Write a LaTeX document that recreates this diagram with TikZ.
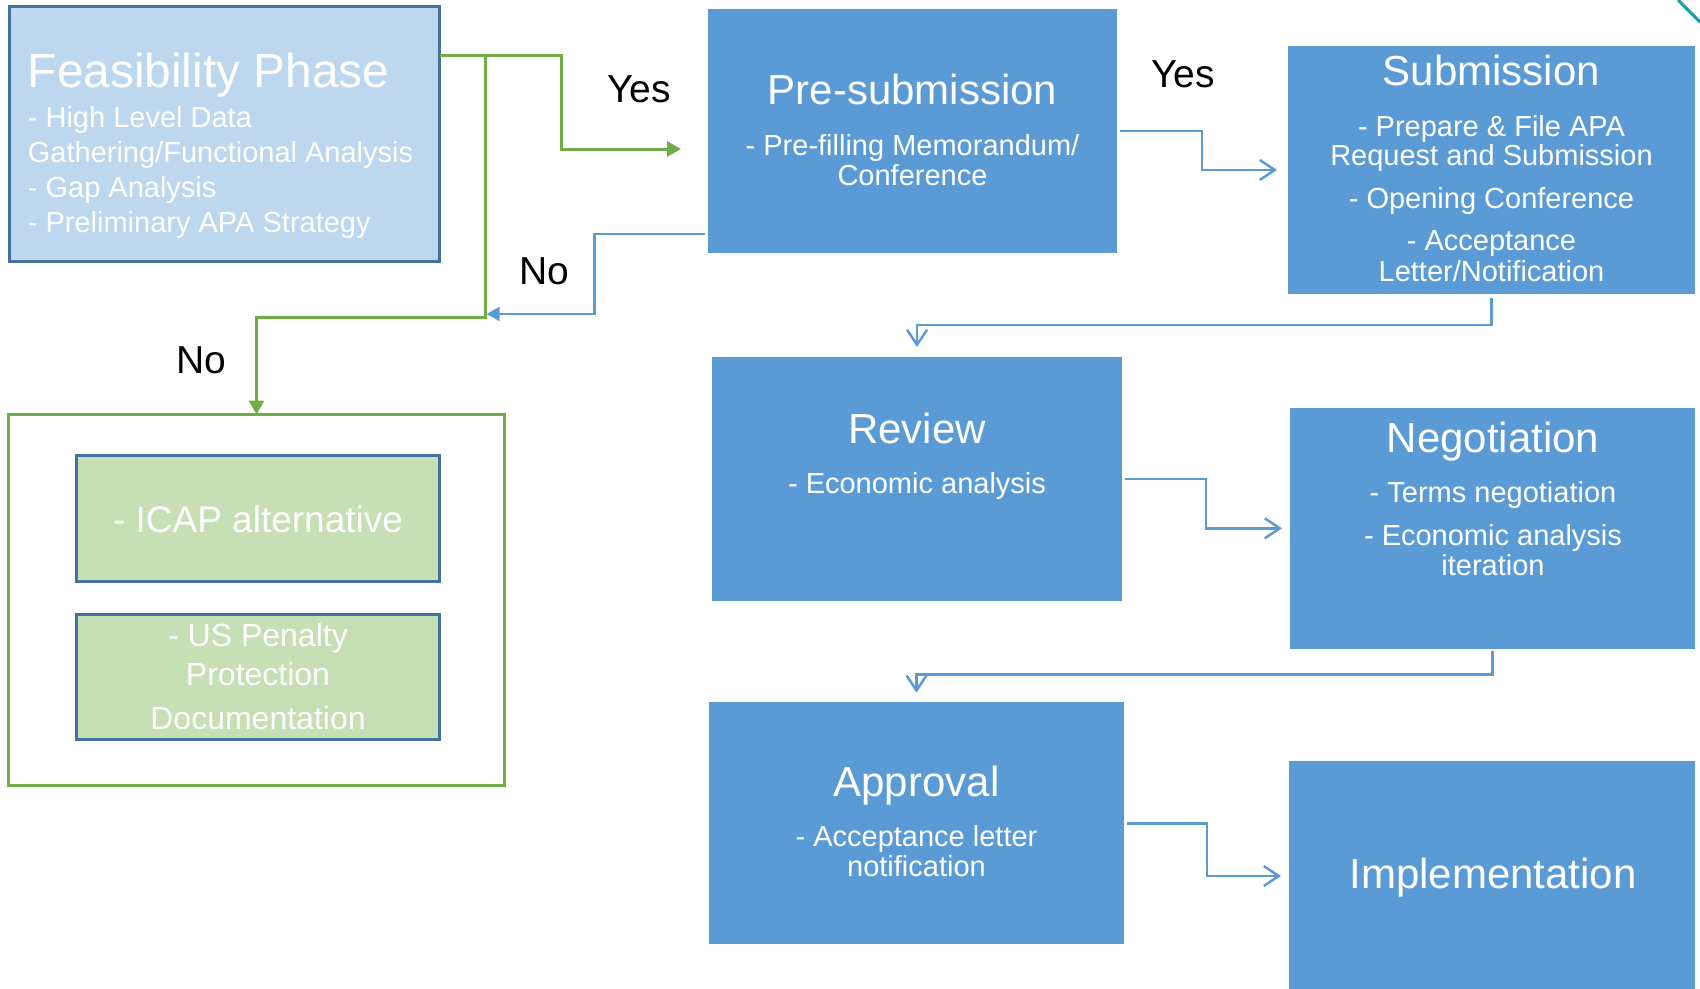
\documentclass[tikz,border=0pt]{standalone}
\usepackage{fontspec}
\setmainfont{Liberation Sans}
\usetikzlibrary{arrows.meta,calc}
\definecolor{boxblue}{HTML}{5B9BD5}
\definecolor{lightblue}{HTML}{BDD7EE}
\definecolor{borderblue}{HTML}{41719C}
\definecolor{ggreen}{HTML}{70AD47}
\definecolor{lgreen}{HTML}{C5E0B4}
\definecolor{tealline}{HTML}{1A9CA4}
\begin{document}
\begin{tikzpicture}[x=1pt,y=-1pt,
  stagebox/.style={fill=boxblue, draw=none, anchor=north west, inner sep=0pt, outer sep=0pt},
  feasbox/.style={fill=lightblue, draw=borderblue, line width=3pt, anchor=north west, inner sep=0pt, outer sep=0pt},
  altbox/.style={fill=lgreen, draw=borderblue, line width=3pt, anchor=north west, inner sep=0pt, outer sep=0pt},
  groupbox/.style={draw=ggreen, line width=3pt, anchor=north west, inner sep=0pt, outer sep=0pt},
  ttl/.style={font=\fontsize{42}{44}\selectfont, text=white, anchor=base, inner sep=0pt},
  itm/.style={font=\fontsize{29}{30}\selectfont, text=white, anchor=base, inner sep=0pt},
  lbl/.style={font=\fontsize{39}{41}\selectfont, text=black, anchor=base, inner sep=0pt},
  gconn/.style={draw=ggreen, line width=3pt, -{Triangle[length=14pt,width=15pt]}},
  bfilled/.style={draw=boxblue, line width=2.5pt, -{Triangle[length=13pt,width=14pt]}},
  bopen/.style={draw=boxblue, line width=2.5pt, -{Straight Barb[length=15pt,width=20pt]}}
]
\useasboundingbox (0,0) rectangle (1700,988);

% ---------- boxes ----------
\node[feasbox, minimum width=430.5pt, minimum height=255pt] (feas) at (9,6.5) {};
\node[stagebox, minimum width=409pt, minimum height=244pt] (presub) at (708,9) {};
\node[stagebox, minimum width=407pt, minimum height=248pt] (sub) at (1288,45.5) {};
\node[stagebox, minimum width=410pt, minimum height=244pt] (review) at (712,357) {};
\node[stagebox, minimum width=405pt, minimum height=240.5pt] (neg) at (1290,408) {};
\node[stagebox, minimum width=415pt, minimum height=242pt] (appr) at (709,702) {};
\node[stagebox, minimum width=406pt, minimum height=228pt] (impl) at (1289,760.5) {};
\node[groupbox, minimum width=495.4pt, minimum height=371pt] (outer) at (8.8,414.5) {};
\node[altbox, minimum width=363pt, minimum height=126pt] (icap) at (76.5,455.5) {};
\node[altbox, minimum width=363pt, minimum height=125pt] (uspen) at (76.5,614.5) {};

% ---------- texts ----------
\node[font=\fontsize{47.8}{50}\selectfont, text=white, anchor=base west, inner sep=0pt] (feasT) at (27.7,87.3) {Feasibility Phase};
\node[itm, anchor=base west] (feas1) at (27.7,127.7) {- High Level Data};
\node[itm, anchor=base west] (feas2) at (27.7,162.3) {Gathering/Functional Analysis};
\node[itm, anchor=base west] (feas3) at (27.7,197.3) {- Gap Analysis};
\node[itm, anchor=base west] (feas4) at (27.7,232.3) {- Preliminary APA Strategy};

\node[ttl] (presubT) at (912.5,104.3) {Pre-submission};
\node[itm] (presub1) at (912.5,155) {- Pre-filling Memorandum/};
\node[itm] (presub2) at (912.5,185) {Conference};

\node[ttl] (subT) at (1491.5,85) {Submission};
\node[itm] (sub1) at (1491.5,136.7) {- Prepare \& File APA};
\node[itm] (sub2) at (1491.5,165.7) {Request and Submission};
\node[itm] (sub3) at (1491.5,208.3) {- Opening Conference};
\node[itm] (sub4) at (1491.5,250.7) {- Acceptance};
\node[itm] (sub5) at (1491.5,281) {Letter/Notification};

\node[ttl] (reviewT) at (917,443.3) {Review};
\node[itm] (review1) at (917,493.3) {- Economic analysis};

\node[ttl] (negT) at (1493,452.7) {Negotiation};
\node[itm] (neg1) at (1493,502.7) {- Terms negotiation};
\node[itm] (neg2) at (1493,545) {- Economic analysis};
\node[itm] (neg3) at (1493,575) {iteration};

\node[ttl] (apprT) at (916.5,796.7) {Approval};
\node[itm] (appr1) at (916.5,846.7) {- Acceptance letter};
\node[itm] (appr2) at (916.5,876.7) {notification};

\node[ttl] (implT) at (1493,888.3) {Implementation};

\node[font=\fontsize{37}{39}\selectfont, text=white, anchor=base, inner sep=0pt] (icapT) at (258,532.3) {- ICAP alternative};
\node[font=\fontsize{32}{34}\selectfont, text=white, anchor=base, inner sep=0pt] (us1) at (258,646.7) {- US Penalty};
\node[font=\fontsize{32}{34}\selectfont, text=white, anchor=base, inner sep=0pt] (us2) at (258,685.7) {Protection};
\node[font=\fontsize{32}{34}\selectfont, text=white, anchor=base, inner sep=0pt] (us3) at (258,729) {Documentation};

\node[lbl] (yes1) at (639,102.7) {Yes};
\node[lbl] (no1) at (544,284) {No};
\node[lbl] (no2) at (201,373.3) {No};
\node[lbl] (yes2) at (1183,87.3) {Yes};

% ---------- connectors ----------
\coordinate (gj) at (485,55);
\coordinate (yesEnd) at (681,149);
\coordinate (noEnd) at (486.6,314);
\coordinate (subIn) at (1277,170);
\coordinate (revIn) at (917,347);
\coordinate (negIn) at (1282,528.3);
\coordinate (apprIn) at (916.5,692.7);
\coordinate (implIn) at (1281,876);

\draw[gconn] ([yshift=-48.5pt]feas.north east) -- (561.6,55) |- (yesEnd);
\draw[gconn] (gj) -- (485,317) -| (outer.north);
\draw[bfilled] ([shift={(-3pt,19pt)}]presub.south west) -- (594.6,234) |- (noEnd);
\draw[bopen] ([shift={(3pt,-122pt)}]presub.north east) -- (1202,131) |- (subIn);
\draw[bopen] ([yshift=-4.5pt]sub.south) -- (1491.5,325) -| (revIn);
\draw[bopen] ([shift={(3.4pt,-122pt)}]review.north east) -- (1206,479) |- (negIn);
\draw[bopen] ([yshift=-2.5pt]neg.south) -- (1492.5,674.5) -| (apprIn);
\draw[bopen] ([shift={(2.7pt,-121.3pt)}]appr.north east) -- (1207,823.3) |- (implIn);

% ---------- corner stroke ----------
\draw[tealline, line width=3pt] (1678,0) -- (1700,22);
\end{tikzpicture}
\end{document}
